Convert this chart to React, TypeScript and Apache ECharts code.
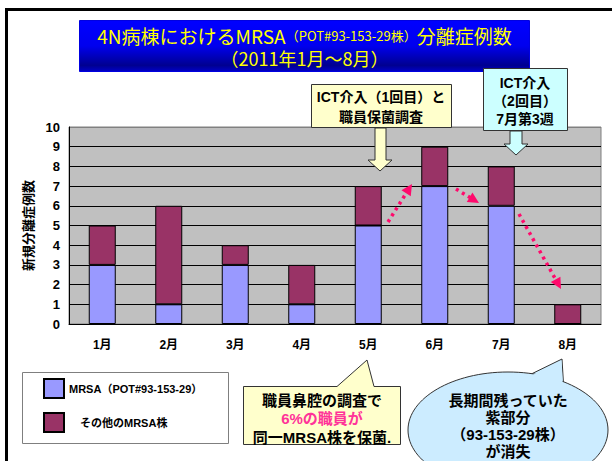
import React, { useEffect, useRef } from "react";
import * as echarts from "echarts";

const months = ["1月", "2月", "3月", "4月", "5月", "6月", "7月", "8月"];
const mrsaPotSeries = [3, 1, 3, 1, 5, 7, 6, 0];
const otherMrsaSeries = [2, 5, 1, 2, 2, 2, 2, 1];
const seriesNames = ["MRSA（POT#93-153-29）", "その他のMRSA株"];
const yAxisTitle = "新規分離症例数";
const titleLine1 = ["4N病棟におけるMRSA", "（POT#93-153-29株）", "分離症例数"];
const titleLine2 = "（2011年1月～8月）";
const ict1Text = "ICT介入（1回目）と\n職員保菌調査";
const ict2Text = "ICT介入\n（2回目）\n7月第3週";
const staffLines = ["職員鼻腔の調査で", "6%の職員が", "同一MRSA株を保菌."];
const ellipseText = "長期間残っていた\n紫部分\n（93-153-29株）\nが消失";

const FONT = "'Liberation Sans', Arial, 'Noto Sans CJK JP', sans-serif";
const PINK = "#FF0A6C";

function dottedArrow(x1: number, y1: number, x2: number, y2: number) {
  const dx = x2 - x1, dy = y2 - y1;
  const L = Math.hypot(dx, dy);
  const ux = dx / L, uy = dy / L;
  const hl = 11, hw = 5.5;
  const bx = x2 - ux * hl, by = y2 - uy * hl;
  return [
    {
      type: "line",
      z: 100,
      shape: { x1, y1, x2: bx + ux * 2, y2: by + uy * 2 },
      style: { stroke: PINK, lineWidth: 3.5, lineDash: [3, 4] },
    },
    {
      type: "polygon",
      z: 100,
      shape: {
        points: [
          [x2, y2],
          [bx - uy * hw, by + ux * hw],
          [bx + uy * hw, by - ux * hw],
        ],
      },
      style: { fill: PINK },
    },
  ];
}

export default function App() {
  const ref = useRef<HTMLDivElement>(null);
  useEffect(() => {
    if (!ref.current) return;
    const chart = echarts.init(ref.current, null, { renderer: "svg" });
    const splitColors = Array.from({ length: 11 }, (_, i) => (i === 10 ? "#808080" : "#000000"));
    const option: any = {
      animation: false,
      backgroundColor: "#ffffff",
      textStyle: { fontFamily: FONT },
      grid: {
        left: 69,
        top: 127,
        right: 11,
        bottom: 137,
        show: true,
        backgroundColor: "#C0C0C0",
        borderColor: "#808080",
        borderWidth: 1,
        containLabel: false,
      },
      legend: {
        orient: "vertical",
        left: 43,
        top: 378,
        icon: "rect",
        itemWidth: 20,
        itemHeight: 19,
        itemGap: 13,
        padding: 0,
        textStyle: { fontFamily: FONT, fontWeight: "bold", fontSize: 11, color: "#000" },
        formatter: (name: string) => (name === seriesNames[1] ? "　" + name : name),
        data: seriesNames,
      },
      xAxis: {
        type: "category",
        data: months,
        axisLine: { lineStyle: { color: "#000", width: 1 } },
        axisTick: { inside: true, length: 4, lineStyle: { color: "#000" } },
        axisLabel: { fontFamily: FONT, fontWeight: "bold", fontSize: 12, color: "#000", margin: 15 },
      },
      yAxis: {
        type: "value",
        min: 0,
        max: 10,
        interval: 1,
        name: yAxisTitle,
        nameLocation: "middle",
        nameRotate: 90,
        nameGap: 25,
        nameTextStyle: { fontFamily: FONT, fontWeight: "bold", fontSize: 13, color: "#000" },
        axisLine: { show: true, lineStyle: { color: "#000", width: 1 } },
        axisTick: { show: false },
        axisLabel: { fontFamily: FONT, fontWeight: "bold", fontSize: 13, color: "#000", margin: 9 },
        splitLine: { show: true, lineStyle: { color: splitColors, width: 1 } },
      },
      series: [
        {
          name: seriesNames[0],
          type: "bar",
          stack: "total",
          barWidth: 27,
          data: mrsaPotSeries,
          itemStyle: { color: "#9999FF", borderColor: "#000", borderWidth: 1 },
        },
        {
          name: seriesNames[1],
          type: "bar",
          stack: "total",
          barWidth: 27,
          data: otherMrsaSeries,
          itemStyle: { color: "#993366", borderColor: "#000", borderWidth: 1 },
        },
      ],
      graphic: {
        elements: [
          {
            type: "rect",
            z: 0,
            shape: { x: 6.5, y: 9.5, width: 700, height: 600 },
            style: { fill: "none", stroke: "#000", lineWidth: 3 },
          },
          {
            type: "rect",
            z: 50,
            shape: { x: 79.5, y: 20.5, width: 450, height: 51 },
            style: {
              fill: new echarts.graphic.LinearGradient(0, 0, 0, 1, [
                { offset: 0, color: "#0000FF" },
                { offset: 0.5, color: "#0000EE" },
                { offset: 0.88, color: "#000090" },
                { offset: 1, color: "#0000C8" },
              ]),
              stroke: "#0000E0",
              lineWidth: 1,
            },
          },
          {
            type: "text",
            z: 51,
            x: 304.5,
            y: 35.5,
            style: {
              text: `{m|${titleLine1[0]}}{s|${titleLine1[1]}}{m|${titleLine1[2]}}`,
              align: "center",
              verticalAlign: "middle",
              rich: {
                m: { fontFamily: "'Noto Sans CJK JP', sans-serif", fontSize: 19, fill: "#FFFF00", color: "#FFFF00" },
                s: { fontFamily: "'Noto Sans CJK JP', sans-serif", fontSize: 13, fill: "#FFFF00", color: "#FFFF00" },
              },
            },
          },
          {
            type: "text",
            z: 51,
            x: 304.5,
            y: 58,
            style: {
              text: titleLine2,
              align: "center",
              verticalAlign: "middle",
              fontFamily: "'Noto Sans CJK JP', sans-serif",
              fontSize: 18,
              fill: "#FFFF00",
            },
          },
          {
            type: "rect",
            z: 50,
            shape: { x: 311.5, y: 84.5, width: 140, height: 43 },
            style: { fill: "#FFFFCC", stroke: "#333", lineWidth: 1 },
          },
          {
            type: "text",
            z: 51,
            x: 381,
            y: 107,
            style: {
              text: ict1Text,
              align: "center",
              verticalAlign: "middle",
              fontFamily: FONT,
              fontWeight: "bold",
              fontSize: 14,
              lineHeight: 20,
              fill: "#000",
            },
          },
          {
            type: "polygon",
            z: 50,
            shape: {
              points: [
                [375, 128], [386, 128], [386, 160], [392, 160], [380, 171], [368, 160], [375, 160],
              ],
            },
            style: { fill: "#FFFFCC", stroke: "#333", lineWidth: 1 },
          },
          {
            type: "rect",
            z: 50,
            shape: { x: 483.5, y: 68.5, width: 84, height: 62 },
            style: { fill: "#CCFFFF", stroke: "#333", lineWidth: 1 },
          },
          {
            type: "text",
            z: 51,
            x: 525,
            y: 101,
            style: {
              text: ict2Text,
              align: "center",
              verticalAlign: "middle",
              fontFamily: FONT,
              fontWeight: "bold",
              fontSize: 14,
              lineHeight: 18,
              fill: "#000",
            },
          },
          {
            type: "polygon",
            z: 50,
            shape: {
              points: [
                [510, 131], [522, 131], [522, 144], [528, 144], [516, 155], [504, 144], [510, 144],
              ],
            },
            style: { fill: "#CCFFFF", stroke: "#333", lineWidth: 1 },
          },
          ...dottedArrow(388, 222, 412, 184),
          ...dottedArrow(456, 189, 479, 203),
          ...dottedArrow(519, 214, 561, 289),
          {
            type: "rect",
            z: -1,
            shape: { x: 22.5, y: 372.5, width: 206, height: 71 },
            style: { fill: "#fff", stroke: "#7f7f7f", lineWidth: 1 },
          },
          {
            type: "polygon",
            z: 50,
            shape: {
              points: [
                [243.5, 386.5], [337, 386.5], [367, 360], [374, 386.5], [400.5, 386.5], [400.5, 444.5], [243.5, 444.5],
              ],
            },
            style: { fill: "#FFFFCC", stroke: "#333", lineWidth: 1 },
          },
          {
            type: "text",
            z: 51,
            x: 322,
            y: 418.5,
            style: {
              text: `{a|${staffLines[0]}}\n{p|${staffLines[1]}}\n{a|${staffLines[2]}}`,
              align: "center",
              verticalAlign: "middle",
              rich: {
                a: { fontFamily: FONT, fontWeight: "bold", fontSize: 15, lineHeight: 18.5, fill: "#000", color: "#000" },
                p: { fontFamily: FONT, fontWeight: "bold", fontSize: 15, lineHeight: 18.5, fill: "#FF3399", color: "#FF3399" },
              },
            },
          },
          {
            type: "polygon",
            z: 50,
            shape: { points: [[562, 359], [519, 380], [564, 392]] },
            style: { fill: "#CCECFF", stroke: "#333", lineWidth: 1 },
          },
          {
            type: "ellipse",
            z: 50,
            shape: { cx: 508, cy: 430, rx: 100, ry: 58 },
            style: { fill: "#CCECFF", stroke: "#333", lineWidth: 1 },
          },
          {
            type: "polygon",
            z: 50,
            shape: { points: [[561.5, 360.5], [520.5, 381], [563, 391]] },
            style: { fill: "#CCECFF", lineWidth: 0 },
          },
          {
            type: "text",
            z: 51,
            x: 508,
            y: 425.5,
            style: {
              text: ellipseText,
              align: "center",
              verticalAlign: "middle",
              fontFamily: FONT,
              fontWeight: "bold",
              fontSize: 15,
              lineHeight: 17,
              fill: "#000",
            },
          },
        ],
      },
    };
    chart.setOption(option);
    return () => chart.dispose();
  }, []);
  return (
    <div
      ref={ref}
      style={{ position: "absolute", left: 0, top: 0, width: 612, height: 461, background: "#fff" }}
    />
  );
}
